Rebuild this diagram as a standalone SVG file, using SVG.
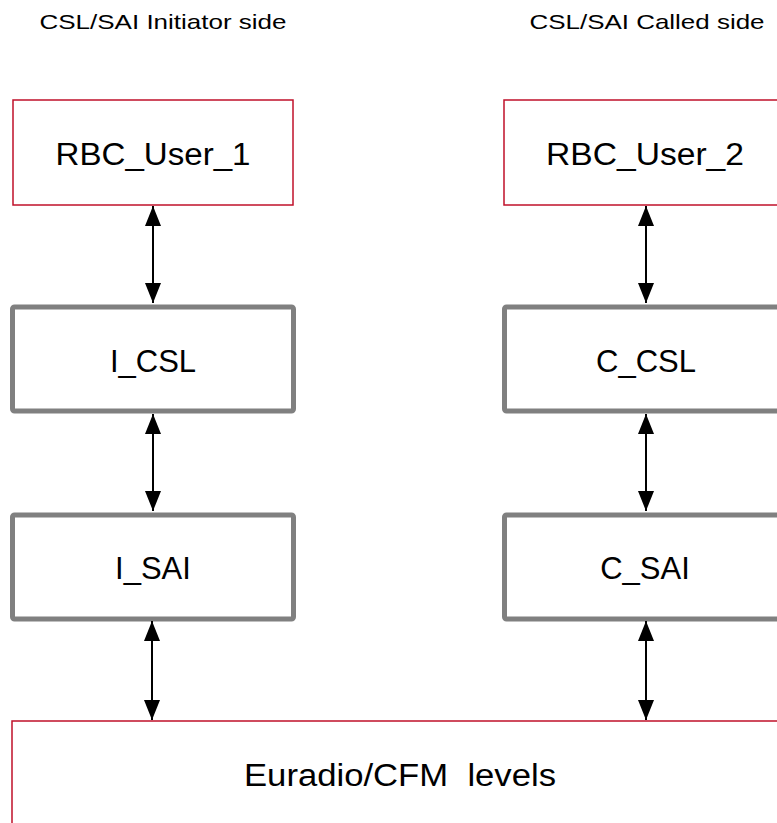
<svg xmlns="http://www.w3.org/2000/svg" width="777" height="823" viewBox="0 0 777 823">
<style>
text{font-family:"Liberation Sans",Arial,sans-serif;fill:#000;text-anchor:middle}
.hdr{font-size:21px}
.lbl{font-size:31px}
.red{fill:#fff;stroke:#c0102a;stroke-width:1.5}
.grey{fill:#fff;stroke:#808080;stroke-width:5}
.conn line{stroke:#000;stroke-width:2;marker-start:url(#ah);marker-end:url(#ah)}
</style>
<defs>
<marker id="ah" viewBox="0 0 20 16" refX="20" refY="8" markerWidth="20" markerHeight="16" markerUnits="userSpaceOnUse" orient="auto-start-reverse">
<path d="M0,0 L20,8 L0,16 z" fill="#000"/>
</marker>
</defs>
<rect width="777" height="823" fill="#fff"/>
<text class="hdr" x="163" y="29" textLength="247" lengthAdjust="spacingAndGlyphs">CSL/SAI Initiator side</text>
<text class="hdr" x="647" y="29" textLength="235" lengthAdjust="spacingAndGlyphs">CSL/SAI Called side</text>
<g id="rbc1"><rect class="red" x="13" y="100" width="280" height="105"/><text class="lbl" x="153" y="165" textLength="195" lengthAdjust="spacingAndGlyphs">RBC_User_1</text></g>
<g id="rbc2"><rect class="red" x="504" y="100" width="290" height="105"/><text class="lbl" x="645" y="165" textLength="198" lengthAdjust="spacingAndGlyphs">RBC_User_2</text></g>
<g id="icsl"><rect class="grey" x="12.5" y="307" width="281" height="104" rx="2"/><text class="lbl" x="153" y="372">I_CSL</text></g>
<g id="ccsl"><rect class="grey" x="504.5" y="307" width="290" height="104" rx="2"/><text class="lbl" x="646" y="372">C_CSL</text></g>
<g id="isai"><rect class="grey" x="12.5" y="515" width="281" height="104" rx="2"/><text class="lbl" x="153" y="579">I_SAI</text></g>
<g id="csai"><rect class="grey" x="504.5" y="515" width="290" height="104" rx="2"/><text class="lbl" x="645" y="579">C_SAI</text></g>
<g id="euradio"><rect class="red" x="12" y="721" width="790" height="120"/><text class="lbl" x="400" y="786" xml:space="preserve" style="white-space:pre" textLength="312" lengthAdjust="spacingAndGlyphs">Euradio/CFM  levels</text></g>
<g class="conn">
<line x1="153" y1="206" x2="153" y2="303"/>
<line x1="153" y1="414" x2="153" y2="511"/>
<line x1="152" y1="621" x2="152" y2="720"/>
<line x1="646" y1="206" x2="646" y2="303"/>
<line x1="646" y1="414" x2="646" y2="511"/>
<line x1="646" y1="621" x2="646" y2="720"/>
</g>
</svg>
